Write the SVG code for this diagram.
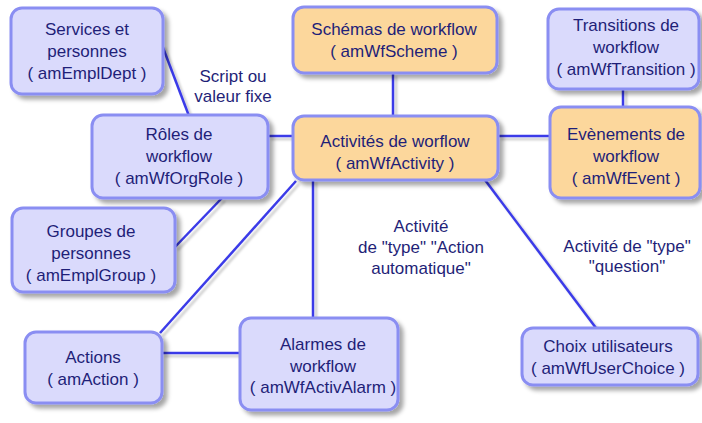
<svg xmlns="http://www.w3.org/2000/svg" width="702" height="423" viewBox="0 0 702 423">
<style>
.box{fill:#dadafc;stroke:#8a8ef2;stroke-width:3;filter:url(#sh)}
.org{fill:#fcd79c}
.t{font-family:"Liberation Sans",Arial,sans-serif;font-size:17px;fill:#1f1f78;text-anchor:middle}
.c{stroke:#3b3be8;stroke-width:2.5;fill:none}
</style>
<defs>
<filter id="sh" x="-20%" y="-20%" width="140%" height="150%">
<feDropShadow dx="4" dy="4" stdDeviation="2.2" flood-color="#000" flood-opacity="0.35"/>
</filter>
<filter id="lsh" filterUnits="userSpaceOnUse" x="0" y="0" width="702" height="423">
<feDropShadow dx="3" dy="3" stdDeviation="1.2" flood-color="#000" flood-opacity="0.2"/>
</filter>
</defs>
<rect width="702" height="423" fill="#fff"/>
<g id="connectors" filter="url(#lsh)">
<line class="c" x1="162" y1="45" x2="189" y2="116"/>
<line class="c" x1="393" y1="73" x2="393" y2="117"/>
<line class="c" x1="623" y1="88" x2="623" y2="108"/>
<line class="c" x1="268" y1="136" x2="294" y2="136"/>
<line class="c" x1="498" y1="136" x2="551" y2="136"/>
<line class="c" x1="222" y1="198" x2="175" y2="247"/>
<line class="c" x1="296" y1="181" x2="160" y2="333"/>
<line class="c" x1="313" y1="179" x2="313" y2="318"/>
<line class="c" x1="485" y1="180" x2="596" y2="328"/>
<line class="c" x1="162" y1="353" x2="240" y2="353"/>
</g>
<g id="services">
<rect class="box" x="11" y="8" width="152" height="86" rx="11"/>
<text class="t" x="87" y="35">Services et</text>
<text class="t" x="87" y="57">personnes</text>
<text class="t" x="87" y="79">( amEmplDept )</text>
</g>
<g id="schemas">
<rect class="box org" x="293" y="7" width="204" height="66" rx="11"/>
<text class="t" x="394" y="35">Schémas de workflow</text>
<text class="t" x="394" y="57">( amWfScheme )</text>
</g>
<g id="transitions">
<rect class="box" x="548" y="9" width="151" height="80" rx="11"/>
<text class="t" x="626" y="31">Transitions de</text>
<text class="t" x="626" y="53">workflow</text>
<text class="t" x="626" y="75">( amWfTransition )</text>
</g>
<g id="roles">
<rect class="box" x="92" y="115" width="176" height="83" rx="11"/>
<text class="t" x="179" y="140">Rôles de</text>
<text class="t" x="179" y="162">workflow</text>
<text class="t" x="179" y="184">( amWfOrgRole )</text>
</g>
<g id="activites">
<rect class="box org" x="293" y="116" width="205" height="64" rx="11"/>
<text class="t" x="395" y="147">Activités de worflow</text>
<text class="t" x="395" y="169">( amWfActivity )</text>
</g>
<g id="evenements">
<rect class="box org" x="550" y="107" width="150" height="91" rx="11"/>
<text class="t" x="626" y="140">Evènements de</text>
<text class="t" x="626" y="162">workflow</text>
<text class="t" x="626" y="184">( amWfEvent )</text>
</g>
<g id="groupes">
<rect class="box" x="12" y="208" width="163" height="84" rx="11"/>
<text class="t" x="91" y="237">Groupes de</text>
<text class="t" x="91" y="259">personnes</text>
<text class="t" x="91" y="281">( amEmplGroup )</text>
</g>
<g id="actions">
<rect class="box" x="25" y="332" width="137" height="71" rx="11"/>
<text class="t" x="93" y="363">Actions</text>
<text class="t" x="93" y="385">( amAction )</text>
</g>
<g id="alarmes">
<rect class="box" x="240" y="318" width="158" height="92" rx="11"/>
<text class="t" x="323" y="350">Alarmes de</text>
<text class="t" x="323" y="372">workflow</text>
<text class="t" x="323" y="393">( amWfActivAlarm )</text>
</g>
<g id="choix">
<rect class="box" x="522" y="328" width="176" height="57" rx="11"/>
<text class="t" x="608" y="352">Choix utilisateurs</text>
<text class="t" x="608" y="374">( amWfUserChoice )</text>
</g>
<g id="labels">
<text class="t" x="233" y="82">Script ou</text>
<text class="t" x="233" y="102">valeur fixe</text>
<text class="t" x="421" y="232">Activité</text>
<text class="t" x="421" y="253">de "type" "Action</text>
<text class="t" x="421" y="274">automatique"</text>
<text class="t" x="627" y="252">Activité de "type"</text>
<text class="t" x="627" y="272">"question"</text>
</g>
</svg>
